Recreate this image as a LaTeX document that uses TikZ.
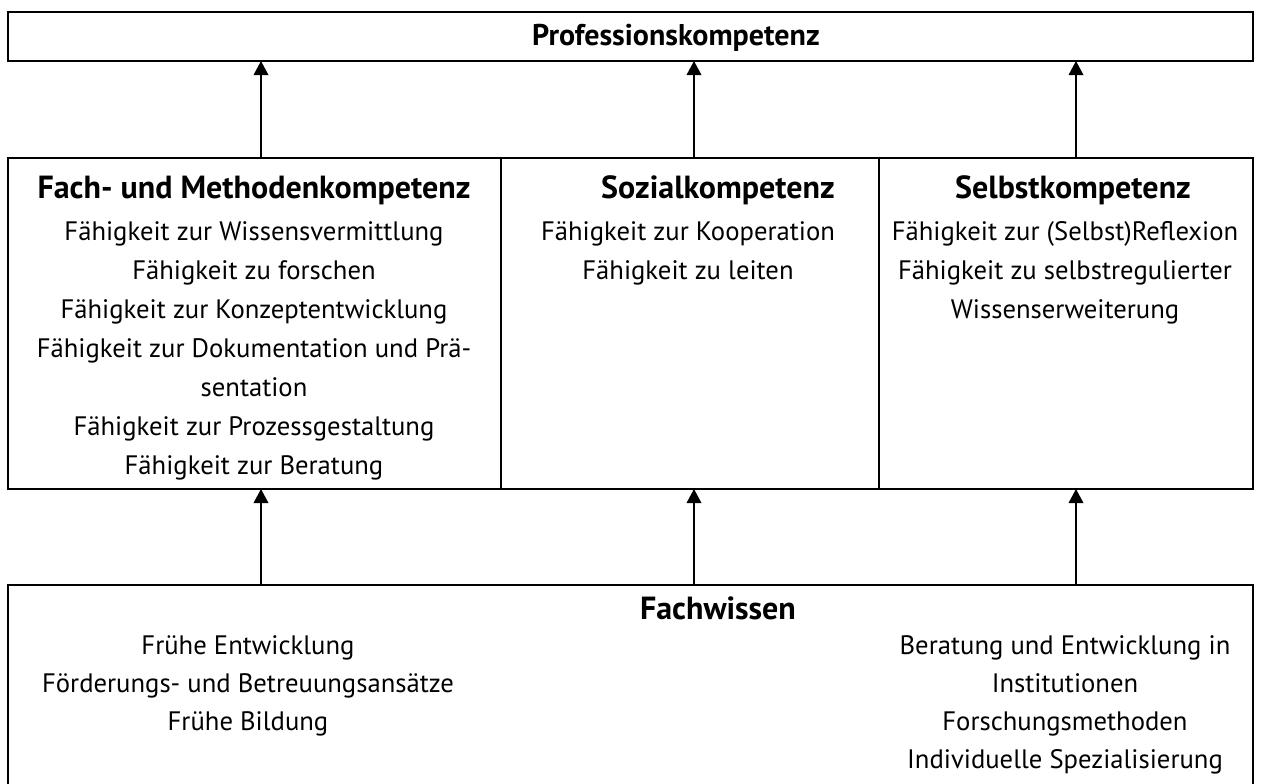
\documentclass[tikz,border=0pt]{standalone}
\usepackage{fontspec}
\setmainfont{PT Sans}
\usetikzlibrary{arrows.meta}
\begin{document}
\begin{tikzpicture}[x=0.75pt,y=-0.75pt,
  box/.style={draw,line width=1.3pt,rectangle,inner sep=0pt,outer sep=0pt,anchor=north west},
  arr/.style={line width=1pt,-{Triangle[length=10.5pt,width=11pt]}},
  ttl/.style={inner sep=0pt,anchor=base,font=\fontsize{24}{28}\selectfont\bfseries},
  body/.style={inner sep=0pt,anchor=base,font=\fontsize{20}{24}\selectfont}]
\useasboundingbox (0,0) rectangle (1261,783);
\begin{scope}
\clip (0,0) rectangle (1261,783);
% boxes
\node[box,minimum width=1245*0.75pt,minimum height=49*0.75pt] (prof) at (8,12) {};
\node[box,minimum width=493*0.75pt,minimum height=331*0.75pt] (fach) at (8,158) {};
\node[box,minimum width=378*0.75pt,minimum height=331*0.75pt] (sozial) at (501,158) {};
\node[box,minimum width=374*0.75pt,minimum height=331*0.75pt] (selbst) at (879,158) {};
\node[box,minimum width=1245*0.75pt,minimum height=230*0.75pt] (wissen) at (8,585) {};
\end{scope}
% arrow columns
\coordinate (a1) at (261,0);
\coordinate (a2) at (694,0);
\coordinate (a3) at (1076,0);
\draw[arr] (fach.north -| a1) -- (prof.south -| a1);
\draw[arr] (sozial.north -| a2) -- (prof.south -| a2);
\draw[arr] (selbst.north -| a3) -- (prof.south -| a3);
\draw[arr] (wissen.north -| a1) -- (fach.south -| a1);
\draw[arr] (wissen.north -| a2) -- (sozial.south -| a2);
\draw[arr] (wissen.north -| a3) -- (selbst.south -| a3);
% titles
\node[ttl,font=\fontsize{22.5}{27}\selectfont\bfseries] (tprof) at (676,45) {Professionskompetenz};
\node[ttl] (tfach) at (254,198) {Fach- und Methodenkompetenz};
\node[ttl] (tsozial) at (718,198) {Sozialkompetenz};
\node[ttl] (tselbst) at (1073,198) {Selbstkompetenz};
\node[ttl] (twissen) at (718,619) {Fachwissen};
% body lines
\foreach \t [count=\i] in {Fähigkeit zur Wissensvermittlung,Fähigkeit zu forschen,Fähigkeit zur Konzeptentwicklung,Fähigkeit zur Dokumentation und Prä-,sentation,Fähigkeit zur Prozessgestaltung,Fähigkeit zur Beratung}
  \node[body] (f\i) at (254,{240+(\i-1)*39}) {\t};
\foreach \t [count=\i] in {Fähigkeit zur Kooperation,Fähigkeit zu leiten}
  \node[body] (s\i) at (688,{240+(\i-1)*39}) {\t};
\foreach \t [count=\i] in {Fähigkeit zur (Selbst)Reflexion,Fähigkeit zu selbstregulierter,Wissenserweiterung}
  \node[body] (e\i) at (1065,{240+(\i-1)*39}) {\t};
\foreach \t [count=\i] in {Frühe Entwicklung,Förderungs- und Betreuungsansätze,Frühe Bildung}
  \node[body] (w\i) at (248,{654+(\i-1)*38}) {\t};
\foreach \t [count=\i] in {Beratung und Entwicklung in,Institutionen,Forschungsmethoden,Individuelle Spezialisierung}
  \node[body] (r\i) at (1065,{654+(\i-1)*38}) {\t};
\end{tikzpicture}
\end{document}
